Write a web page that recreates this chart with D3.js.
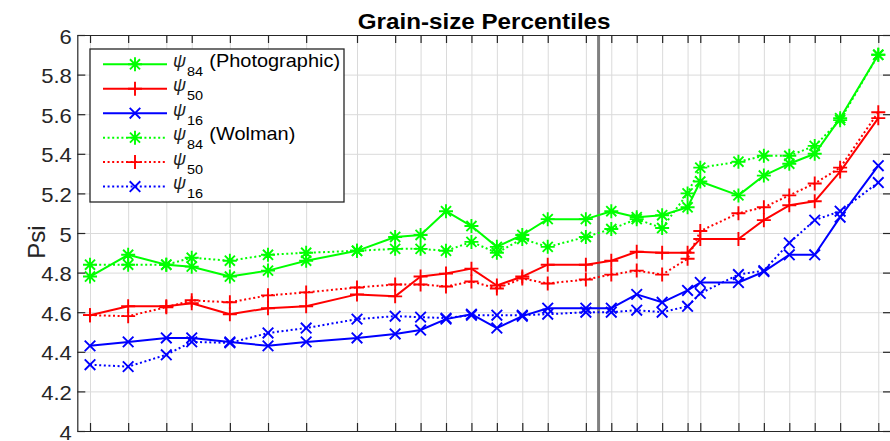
<!DOCTYPE html>
<html>
<head>
<meta charset="utf-8">
<script src="https://cdn.jsdelivr.net/npm/d3@7"></script>
<style>
  html, body { margin: 0; padding: 0; background: #fff; }
  svg { display: block; }
  text { font-family: "Liberation Sans", Arial, Helvetica, sans-serif; }
</style>
</head>
<body>
<div id="chart"></div>
<script>
// Sample positions along the reach (arbitrary distance units)
const stations = [0, 3, 6, 8, 11, 14, 17, 21, 24, 26, 28, 30, 32, 34, 36, 39, 41, 43, 45, 47, 48, 51, 53, 55, 57, 59, 62];
// Reference station marked with a vertical line
const dividerStation = 40;

// Photographic grain-size percentiles (psi units)
const photo84 = [4.78, 4.89, 4.84, 4.83, 4.78, 4.81, 4.86, 4.91, 4.98, 4.99, 5.11, 5.035, 4.93, 4.99, 5.07, 5.07, 5.11, 5.08, 5.09, 5.13, 5.26, 5.19, 5.29, 5.35, 5.40, 5.58, 5.90];
const photo50 = [4.585, 4.63, 4.63, 4.645, 4.59, 4.62, 4.63, 4.69, 4.68, 4.78, 4.795, 4.82, 4.735, 4.78, 4.84, 4.84, 4.86, 4.905, 4.90, 4.90, 4.97, 4.97, 5.065, 5.14, 5.16, 5.31, 5.58];
const photo16 = [4.43, 4.45, 4.47, 4.47, 4.45, 4.43, 4.45, 4.47, 4.49, 4.51, 4.565, 4.59, 4.52, 4.58, 4.62, 4.62, 4.62, 4.69, 4.65, 4.71, 4.75, 4.75, 4.805, 4.89, 4.89, 5.08, 5.34];

// Wolman pebble-count percentiles (psi units)
const wolman84 = [4.84, 4.84, 4.84, 4.875, 4.86, 4.89, 4.90, 4.91, 4.92, 4.92, 4.91, 4.955, 4.90, 4.97, 4.93, 4.98, 5.02, 5.07, 5.025, 5.20, 5.33, 5.36, 5.39, 5.39, 5.44, 5.57, 5.90];
const wolman50 = [4.585, 4.58, 4.625, 4.66, 4.65, 4.685, 4.70, 4.725, 4.74, 4.74, 4.73, 4.755, 4.72, 4.77, 4.745, 4.765, 4.79, 4.81, 4.79, 4.87, 5.01, 5.10, 5.13, 5.19, 5.25, 5.33, 5.61];
const wolman16 = [4.335, 4.325, 4.385, 4.45, 4.445, 4.495, 4.52, 4.565, 4.58, 4.575, 4.57, 4.585, 4.585, 4.585, 4.59, 4.60, 4.60, 4.61, 4.60, 4.63, 4.695, 4.79, 4.81, 4.95, 5.065, 5.11, 5.255];

const yTicks = [4, 4.2, 4.4, 4.6, 4.8, 5, 5.2, 5.4, 5.6, 5.8, 6];
const chartTitle = "Grain-size Percentiles";
const yLabel = "Psi";

const series = [
  { values: photo84, color: "#00ff00", marker: "star",  dotted: false, sub: "84", note: "(Photographic)" },
  { values: photo50, color: "#ff0000", marker: "plus",  dotted: false, sub: "50", note: "" },
  { values: photo16, color: "#0000ff", marker: "cross", dotted: false, sub: "16", note: "" },
  { values: wolman84, color: "#00ff00", marker: "star",  dotted: true, sub: "84", note: "(Wolman)" },
  { values: wolman50, color: "#ff0000", marker: "plus",  dotted: true, sub: "50", note: "" },
  { values: wolman16, color: "#0000ff", marker: "cross", dotted: true, sub: "16", note: "" }
];

const W = 890, H = 441;
const plotLeft = 77.3, plotRight = 891, plotTop = 35, plotBottom = 431;
const axisColor = "#262626";

const x = d3.scaleLinear().domain([-1, 63]).range([plotLeft, plotRight]);
const y = d3.scaleLinear().domain([4, 6]).range([plotBottom, plotTop]);

const svg = d3.select("#chart").append("svg")
  .attr("width", W).attr("height", H)
  .attr("viewBox", `0 0 ${W} ${H}`);

svg.append("clipPath").attr("id", "plotclip")
  .append("rect").attr("x", plotLeft).attr("y", plotTop - 10)
  .attr("width", plotRight - plotLeft).attr("height", plotBottom - plotTop + 20);

// Grid
const grid = svg.append("g").attr("class", "grid");
grid.append("g").attr("transform", `translate(0,${plotBottom})`)
  .call(d3.axisBottom(x).tickValues(stations).tickSize(-(plotBottom - plotTop)).tickFormat(""))
  .call(g => g.select(".domain").remove())
  .call(g => g.selectAll("line").attr("stroke", "#dadada").attr("stroke-width", 1));
grid.append("g").attr("transform", `translate(${plotLeft},0)`)
  .call(d3.axisLeft(y).tickValues(yTicks).tickSize(-(plotRight - plotLeft)).tickFormat(""))
  .call(g => g.select(".domain").remove())
  .call(g => g.selectAll("line").attr("stroke", "#dadada").attr("stroke-width", 1));

// Divider line
svg.append("line")
  .attr("x1", x(dividerStation)).attr("x2", x(dividerStation))
  .attr("y1", plotTop).attr("y2", plotBottom)
  .attr("stroke", "#808080").attr("stroke-width", 3);

// Marker shapes
function markerPath(kind) {
  if (kind === "star") {
    const r = 7, d = r * 0.72;
    return `M${-r},0L${r},0M0,${-r}L0,${r}M${-d},${-d}L${d},${d}M${-d},${d}L${d},${-d}`;
  }
  if (kind === "plus") {
    const r = 7;
    return `M${-r},0L${r},0M0,${-r}L0,${r}`;
  }
  const r = 5.3;
  return `M${-r},${-r}L${r},${r}M${-r},${r}L${r},${-r}`;
}

const plot = svg.append("g").attr("clip-path", "url(#plotclip)");
const lineGen = d3.line().x(d => x(d.s)).y(d => y(d.v));

series.forEach(sr => {
  const pts = stations.map((s, i) => ({ s, v: sr.values[i] }));
  const g = plot.append("g");
  g.append("path").datum(pts)
    .attr("d", lineGen)
    .attr("fill", "none")
    .attr("stroke", sr.color)
    .attr("stroke-width", 2)
    .attr("stroke-linejoin", "round")
    .attr("stroke-dasharray", sr.dotted ? "2,2.6" : null);
  g.selectAll("path.mk").data(pts).join("path")
    .attr("class", "mk")
    .attr("transform", d => `translate(${x(d.s)},${y(d.v)})`)
    .attr("d", markerPath(sr.marker))
    .attr("fill", "none")
    .attr("stroke", sr.color)
    .attr("stroke-width", 1.9);
});

// Axes (ticks point inward, box on)
function styleAxis(g) {
  g.selectAll(".domain").attr("stroke", axisColor).attr("stroke-width", 1.2);
  g.selectAll(".tick line").attr("stroke", axisColor).attr("stroke-width", 1.2);
}
svg.append("g").attr("transform", `translate(0,${plotBottom})`)
  .call(d3.axisBottom(x).tickValues(stations).tickSizeInner(-8).tickSizeOuter(0).tickFormat(""))
  .call(styleAxis);
svg.append("g").attr("transform", `translate(0,${plotTop})`)
  .call(d3.axisTop(x).tickValues(stations).tickSizeInner(-8).tickSizeOuter(0).tickFormat(""))
  .call(styleAxis);
svg.append("g").attr("transform", `translate(${plotRight},0)`)
  .call(d3.axisRight(y).tickValues(yTicks).tickSizeInner(-8).tickSizeOuter(0).tickFormat(""))
  .call(styleAxis);
svg.append("g").attr("transform", `translate(${plotLeft},0)`)
  .call(d3.axisLeft(y).tickValues(yTicks).tickSizeInner(-8).tickSizeOuter(0).tickPadding(5)
        .tickFormat(d3.format("~g")))
  .call(styleAxis)
  .call(g => g.selectAll(".tick text")
    .attr("fill", axisColor)
    .attr("font-size", "20px")
    .attr("dy", "0.4em")
    .attr("transform", "scale(1.1,1)"));

// Title
svg.append("text")
  .attr("transform", `translate(${(plotLeft + plotRight) / 2},28.5) scale(1.1,1)`)
  .attr("text-anchor", "middle")
  .attr("font-size", "22px")
  .attr("font-weight", "bold")
  .attr("fill", "#000")
  .text(chartTitle);

// Y label
svg.append("text")
  .attr("transform", "translate(45,242) rotate(-90)")
  .attr("text-anchor", "middle")
  .attr("font-size", "24px")
  .attr("fill", axisColor)
  .text(yLabel);

// Legend
const lg = svg.append("g").attr("transform", "translate(90,49)");
lg.append("rect")
  .attr("width", 254).attr("height", 153)
  .attr("fill", "#fff")
  .attr("stroke", axisColor).attr("stroke-width", 1.3);
series.forEach((sr, i) => {
  const ry = 15.3 + i * 24.45;
  const row = lg.append("g").attr("transform", `translate(0,${ry})`);
  row.append("line")
    .attr("x1", 13).attr("x2", 77).attr("y1", 0).attr("y2", 0)
    .attr("stroke", sr.color).attr("stroke-width", 2)
    .attr("stroke-dasharray", sr.dotted ? "2,2.6" : null);
  row.append("path")
    .attr("transform", "translate(45,0)")
    .attr("d", markerPath(sr.marker))
    .attr("fill", "none").attr("stroke", sr.color).attr("stroke-width", 1.9);
  row.append("text")
    .attr("transform", "translate(83,2.5)")
    .attr("font-family", "'DejaVu Serif', 'Liberation Serif', serif")
    .attr("font-style", "italic")
    .attr("font-size", "18px")
    .attr("fill", "#222")
    .text("\u03C8");
  row.append("text")
    .attr("transform", "translate(97,11.5) scale(1.07,1)")
    .attr("font-size", "13.5px")
    .attr("fill", "#000")
    .text(sr.sub);
  if (sr.note) {
    row.append("text")
      .attr("transform", "translate(119.3,2.4) scale(1.14,1)")
      .attr("font-size", "17.5px")
      .attr("fill", "#000")
      .text(sr.note);
  }
});
</script>
</body>
</html>
